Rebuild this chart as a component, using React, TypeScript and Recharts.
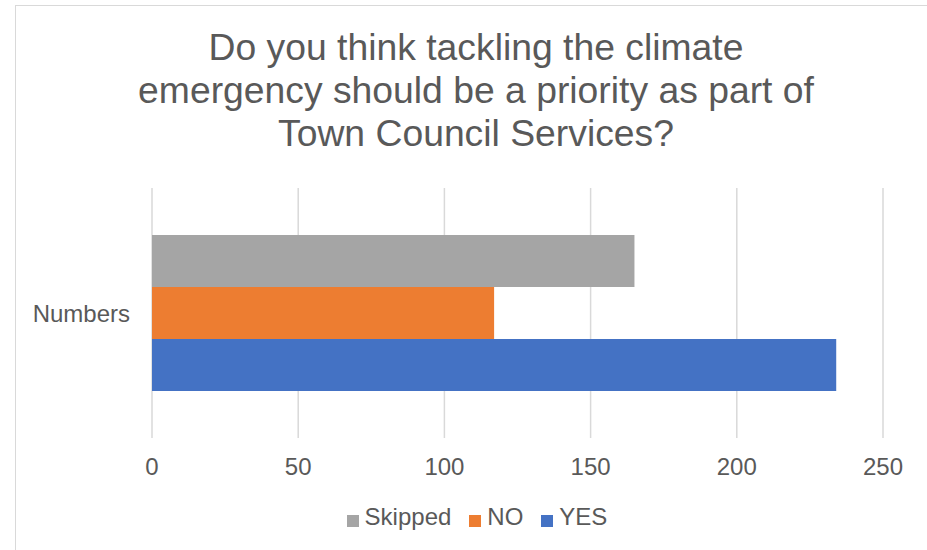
import React from "react";
import {
  BarChart,
  Bar,
  XAxis,
  YAxis,
  CartesianGrid,
  Legend,
} from "recharts";

const categories = ["Numbers"];
const skipped = [165];
const no = [117];
const yes = [234];
const xTicks = [0, 50, 100, 150, 200, 250];
const legendOrder = ["Skipped", "NO", "YES"];
const titleLines = [
  "Do you think tackling the climate",
  "emergency should be a priority as part of",
  "Town Council Services?",
];

const chartData = categories.map((name, i) => ({
  name,
  Skipped: skipped[i],
  NO: no[i],
  YES: yes[i],
}));

const font = '"Liberation Sans", Arial, sans-serif';
const textColor = "#595959";

export default function App() {
  return (
    <div
      style={{
        position: "fixed",
        left: 0,
        top: 0,
        width: 927,
        height: 550,
        overflow: "hidden",
        background: "#fff",
        fontFamily: font,
      }}
    >
      <div
        style={{
          position: "absolute",
          left: 15,
          top: 5,
          width: 960,
          height: 600,
          border: "1.5px solid #d9d9d9",
          boxSizing: "border-box",
        }}
      />
      <div
        style={{
          position: "absolute",
          left: 15,
          top: 26,
          width: 922,
          textAlign: "center",
          fontSize: 37.3,
          lineHeight: "43px",
          color: textColor,
        }}
      >
        {titleLines.map((l) => (
          <div key={l}>{l}</div>
        ))}
      </div>
      <BarChart
        width={927}
        height={550}
        data={chartData}
        layout="vertical"
        margin={{ top: 188, right: 44, bottom: 72, left: 0 }}
        barCategoryGap={47}
        barGap={0}
        style={{ position: "absolute", left: 0, top: 0 }}
      >
        <CartesianGrid
          horizontal={false}
          stroke="#d9d9d9"
          strokeWidth={1.5}
        />
        <XAxis
          type="number"
          domain={[0, 250]}
          ticks={xTicks}
          axisLine={false}
          tickLine={false}
          tickSize={0}
          tickMargin={20}
          height={40}
          interval={0}
          tick={{ fill: textColor, fontSize: 24, fontFamily: font }}
        />
        <YAxis
          type="category"
          dataKey="name"
          width={152}
          axisLine={false}
          tickLine={false}
          tickSize={0}
          tickMargin={22}
          tick={{ fill: textColor, fontSize: 24, fontFamily: font }}
        />
        <Legend
          layout="horizontal"
          verticalAlign="middle"
          align="center"
          iconType="square"
          iconSize={12}
          itemSorter={(item: any) => legendOrder.indexOf(String(item.value))}
          wrapperStyle={{ top: 503, left: 25, width: 922 }}
          formatter={(value) => (
            <span
              style={{
                color: textColor,
                fontSize: 24,
                fontFamily: font,
                marginLeft: 2,
                marginRight: 8,
              }}
            >
              {value}
            </span>
          )}
        />
        <Bar dataKey="Skipped" fill="#A5A5A5" isAnimationActive={false} />
        <Bar dataKey="NO" fill="#ED7D31" isAnimationActive={false} />
        <Bar dataKey="YES" fill="#4472C4" isAnimationActive={false} />
      </BarChart>
    </div>
  );
}
